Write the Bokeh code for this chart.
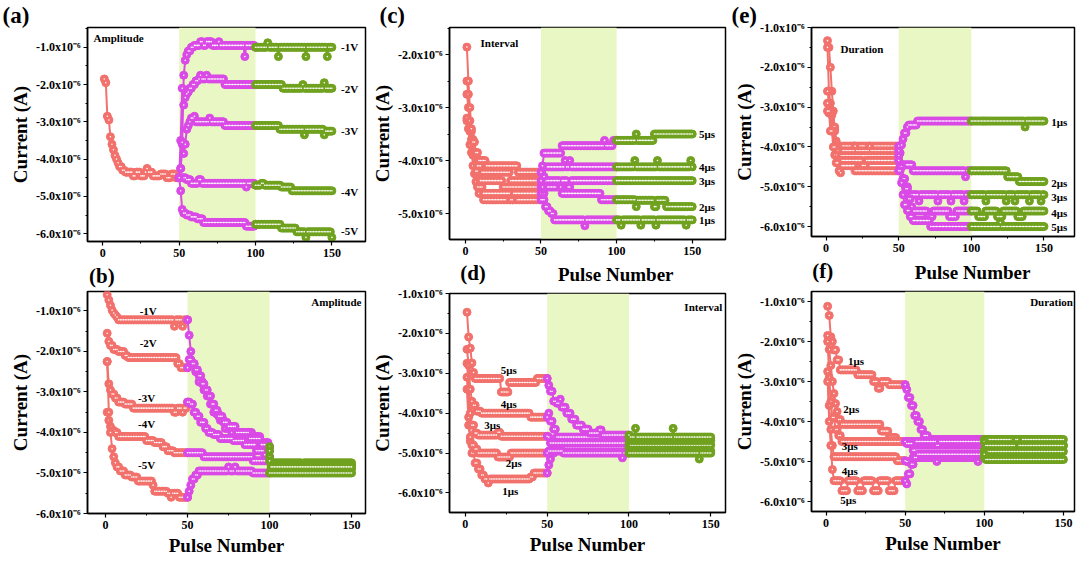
import numpy as np
from bokeh.plotting import figure
from bokeh.models import Range1d, FixedTicker, CustomJSTickFormatter, BoxAnnotation, Label, Title
from bokeh.layouts import row, column
from bokeh.embed import file_html
from bokeh.resources import INLINE

# ---------------- data (current in units of 1e-6 A; (pulse, level) knots, level held until next knot)
X_TICKS = [0, 50, 100, 150]
X_MINOR = [25, 75, 125]

# panel (a) - amplitude, shared depression phase
A_BASE = [(1,-1.85),(2,-1.95),(3,-2.85),(4,-2.95),(5,-3.4),(6,-3.6),(7,-3.75),(8,-3.9),(9,-4.0),(10,-4.1),
          (11,-4.2),(13,-4.3),(15,-4.35),(20,-4.45),(22,-4.35),(25,-4.45),(28,-4.35),(29,-4.25),(30,-4.35),
          (33,-4.45),(38,-4.4),(42,-4.5),(45,-4.4),(48,-4.5),(50,-4.5)]
A_1V = [(50,-4.5),(51,-4.25),(52,-3.6),(53,-1.75),(54,-1.35),(55,-1.2),(56,-1.1),(58,-1.0),(60,-0.95),(64,-0.85),
        (66,-0.95),(68,-0.85),(72,-0.95),(76,-0.85),(77,-0.95),(93,-1.25),(94,-0.95),(100,-1.0),(108,-0.88),
        (109,-1.0),(115,-1.25),(116,-1.0),(133,-1.25),(134,-1.0),(147,-1.25),(148,-1.0)]
A_2V = [(50,-4.5),(51,-3.5),(52,-2.1),(53,-2.55),(54,-2.35),(55,-2.25),(56,-2.2),(57,-2.1),(59,-2.0),(61,-1.9),
        (63,-1.85),(64,-1.75),(65,-1.85),(68,-1.75),(69,-1.85),(80,-2.0),(118,-2.1),(131,-2.0),(132,-2.1),
        (145,-1.95),(146,-2.1)]
A_3V = [(50,-4.5),(51,-4.25),(52,-3.55),(53,-3.85),(54,-3.6),(55,-3.2),(56,-3.1),(57,-3.0),(58,-2.9),(60,-2.85),
        (61,-3.0),(70,-2.9),(71,-3.0),(80,-3.1),(116,-3.2),(132,-3.35),(133,-3.2),(145,-3.35),(146,-3.25)]
A_4V = [(50,-4.5),(55,-4.55),(58,-4.65),(63,-4.55),(65,-4.65),(94,-4.75),(95,-4.65),(100,-4.7),(104,-4.65),
        (106,-4.7),(117,-4.75),(124,-4.85)]
A_5V = [(50,-4.5),(51,-4.85),(52,-5.35),(53,-5.45),(55,-5.5),(58,-5.55),(62,-5.6),(66,-5.7),(94,-5.8),(100,-5.75),
        (117,-5.85),(127,-5.95),(133,-6.1),(134,-5.95),(150,-6.1)]

# panel (b) - amplitude, potentiation first
B_1V = [(1,-0.6),(2,-0.73),(3,-0.86),(4,-0.98),(5,-1.05),(6,-1.1),(7,-1.15),(8,-1.22),(42,-1.38),(43,-1.22),
        (47,-1.38),(48,-1.22),(51,-1.6),(52,-2.0),(53,-2.3),(55,-2.5),(57,-2.75),(60,-2.95),(62,-3.1),(64,-3.3),
        (66,-3.5),(68,-3.55),(70,-3.7),(73,-3.9),(77,-4.0),(90,-4.1),(95,-4.25),(100,-4.35),(101,-4.75),
        (120,-4.85),(121,-4.75)]
B_2V = [(1,-1.55),(2,-1.75),(3,-1.85),(5,-1.95),(8,-2.0),(12,-2.1),(14,-2.15),(44,-2.3),(46,-2.4),(51,-2.2),
        (53,-2.3),(55,-2.45),(57,-2.6),(59,-2.8),(61,-2.95),(63,-3.1),(65,-3.3),(67,-3.45),(69,-3.6),(72,-3.75),
        (75,-3.85),(80,-4.0),(88,-4.15),(95,-4.3),(100,-4.45),(101,-4.8)]
B_3V = [(1,-2.25),(2,-2.8),(3,-2.95),(4,-3.05),(6,-3.15),(8,-3.25),(12,-3.3),(17,-3.4),(42,-3.5),(44,-3.4),
        (47,-3.5),(48,-3.4),(50,-3.25),(52,-3.3),(54,-3.5),(56,-3.6),(58,-3.75),(61,-3.9),(63,-4.0),(66,-4.05),
        (70,-4.15),(78,-4.2),(85,-4.3),(92,-4.45),(97,-4.55),(100,-4.6),(101,-4.9)]
B_4V = [(1,-3.5),(2,-3.7),(3,-3.85),(4,-3.95),(6,-4.0),(8,-4.1),(25,-4.2),(30,-4.25),(35,-4.35),(38,-4.45),
        (42,-4.5),(60,-4.6),(90,-4.7),(101,-4.85)]
B_5V = [(1,-2.25),(2,-3.5),(3,-4.0),(4,-4.4),(5,-4.6),(6,-4.75),(7,-4.85),(9,-4.95),(12,-5.05),(16,-5.1),
        (20,-5.2),(29,-5.3),(30,-5.45),(38,-5.5),(40,-5.6),(41,-5.5),(45,-5.6),(51,-5.45),(52,-5.3),(53,-5.15),
        (55,-5.05),(57,-4.95),(75,-4.85),(76,-4.95),(79,-4.85),(80,-4.95),(90,-5.0)]

# panel (c) - interval, depression first
C_1US = [(1,-3.25),(3,-3.7),(5,-4.1),(7,-4.4),(9,-4.62),(12,-4.74),(51,-4.74),(53,-4.87),(55,-4.95),(57,-5.0),
         (59,-5.12),(79,-5.23),(80,-5.12),(103,-5.22),(104,-5.12),(116,-5.22),(117,-5.12),(126,-5.22),
         (127,-5.12),(146,-5.22),(147,-5.12)]
C_2US = [(1,-3.2),(2,-3.4),(4,-3.85),(6,-4.25),(8,-4.5),(12,-4.62),(30,-4.74),(32,-4.62),(51,-4.62),(53,-4.5),
         (64,-4.62),(90,-4.74),(113,-4.87),(114,-4.75),(125,-4.87),(127,-4.75),(133,-4.87)]
C_3US = [(1,-2.75),(2,-3.0),(3,-3.45),(5,-3.9),(7,-4.2),(10,-4.38),(25,-4.5),(51,-4.55),(52,-4.38),(63,-4.5),
         (64,-4.38),(68,-4.5),(70,-4.38)]
C_4US = [(1,-2.5),(2,-2.75),(3,-3.25),(4,-3.6),(6,-3.9),(8,-4.1),(11,-4.22),(30,-4.38),(51,-4.5),(52,-4.3),
         (53,-4.12),(66,-4.0),(67,-4.12),(69,-4.0),(70,-4.12),(112,-4.0),(113,-4.12),(127,-4.0),(128,-4.12),
         (149,-4.0),(150,-4.12)]
C_5US = [(1,-1.86),(2,-2.5),(3,-3.0),(4,-3.4),(5,-3.65),(7,-3.85),(9,-4.0),(14,-4.1),(35,-4.22),(51,-4.1),
         (52,-3.86),(64,-3.72),(92,-3.62),(93,-3.72),(98,-3.62),(113,-3.5),(114,-3.62),(125,-3.5)]

# panel (d) - interval, potentiation first
D_1US = [(1,-3.4),(2,-4.3),(3,-4.7),(4,-5.0),(6,-5.25),(8,-5.4),(10,-5.55),(12,-5.65),(14,-5.75),(15,-5.65),
         (40,-5.6),(42,-5.5),(51,-5.3),(52,-5.15),(53,-5.0),(55,-4.9),(58,-4.85),(101,-4.9),(130,-4.95)]
D_2US = [(1,-3.1),(2,-4.1),(3,-4.6),(4,-4.8),(6,-4.9),(8,-5.0),(20,-5.1),(28,-5.0),(51,-4.95),(60,-5.0),
         (96,-5.12),(97,-5.0),(143,-5.15),(144,-5.0)]
D_3US = [(1,-2.75),(2,-3.4),(3,-4.0),(4,-4.3),(6,-4.5),(8,-4.55),(20,-4.48),(22,-4.58),(51,-4.6),(52,-4.75),
         (101,-4.8)]
D_4US = [(1,-2.4),(2,-2.8),(3,-3.4),(4,-3.7),(5,-3.8),(7,-3.95),(10,-4.0),(38,-4.0),(40,-4.1),(51,-4.0),
         (52,-4.2),(54,-4.4),(56,-4.6),(101,-4.68)]
D_5US = [(1,-1.47),(2,-2.09),(3,-2.37),(4,-2.74),(5,-2.98),(6,-3.13),(22,-3.47),(27,-3.23),(44,-3.13),(51,-3.3),
         (52,-3.45),(54,-3.7),(56,-3.75),(58,-3.65),(59,-3.85),(62,-4.0),(65,-4.15),(68,-4.3),(72,-4.4),
         (76,-4.5),(82,-4.42),(84,-4.55),(101,-4.6),(104,-4.38),(105,-4.6),(127,-4.38),(128,-4.6)]

# panel (e) - duration, depression first
E_1US = [(1,-1.33),(2,-1.5),(3,-2.0),(4,-2.6),(5,-3.1),(6,-3.55),(7,-3.85),(8,-3.98),(51,-4.15),(52,-3.95),
         (53,-3.8),(54,-3.65),(56,-3.5),(57,-3.45),(63,-3.35),(137,-3.5),(138,-3.35)]
E_2US = [(1,-1.5),(2,-2.6),(3,-2.9),(4,-3.2),(5,-3.6),(7,-4.0),(9,-4.1),(20,-3.98),(21,-4.1),(30,-3.98),
         (31,-4.1),(51,-4.45),(60,-4.6),(96,-4.75),(97,-4.6),(125,-4.75),(133,-4.87)]
E_3US = [(1,-2.6),(2,-2.9),(3,-3.1),(5,-3.5),(7,-4.1),(9,-4.22),(51,-4.5),(53,-4.8),(55,-5.0),(57,-5.2),
         (64,-5.36),(65,-5.2),(77,-5.36),(78,-5.2),(86,-5.36),(87,-5.2),(95,-5.36),(96,-5.2),(110,-5.36),
         (111,-5.2),(124,-5.36),(125,-5.2),(130,-5.36),(131,-5.2),(140,-5.36),(141,-5.2),(148,-5.36),(149,-5.2)]
E_4US = [(1,-2.9),(2,-3.15),(4,-3.6),(6,-4.2),(8,-4.34),(25,-4.47),(28,-4.34),(51,-4.5),(53,-4.8),(55,-5.05),
         (57,-5.3),(59,-5.5),(60,-5.61),(70,-5.75),(74,-5.61),(85,-5.75),(90,-5.61),(105,-5.75),(110,-5.61),
         (118,-5.75),(122,-5.61),(132,-5.75),(136,-5.61)]
E_5US = [(1,-3.1),(3,-3.6),(5,-4.0),(7,-4.4),(9,-4.6),(10,-4.65),(11,-4.47),(20,-4.6),(51,-4.6),(52,-4.9),
         (53,-5.2),(54,-5.45),(56,-5.6),(58,-5.75),(60,-5.85),(72,-6.0),(120,-5.9),(121,-6.0)]

# panel (f) - duration, potentiation first
F_1US = [(1,-1.12),(2,-1.35),(3,-1.88),(4,-2.0),(5,-2.21),(7,-2.46),(9,-2.71),(20,-2.83),(30,-3.0),(33,-3.17),
         (35,-3.0),(40,-3.08),(51,-3.2),(52,-3.4),(54,-3.6),(56,-3.85),(58,-4.0),(60,-4.2),(62,-4.35),(65,-4.45),
         (101,-4.45)]
F_2US = [(1,-1.85),(2,-2.2),(3,-2.6),(4,-3.0),(5,-3.3),(6,-3.55),(7,-3.75),(8,-3.95),(10,-4.07),(35,-4.24),
         (40,-4.4),(45,-4.5),(70,-4.6),(72,-4.5),(101,-4.6)]
F_3US = [(1,-2.0),(2,-2.9),(3,-3.5),(4,-3.9),(6,-4.2),(8,-4.35),(10,-4.5),(51,-4.55),(55,-4.72),(101,-4.75)]
F_4US = [(1,-2.75),(2,-3.6),(3,-4.2),(4,-4.6),(5,-4.88),(45,-4.98),(51,-5.0),(55,-4.9),(70,-5.0),(71,-4.9),
         (96,-5.0),(97,-4.9),(101,-4.95)]
F_5US = [(1,-3.0),(2,-4.0),(3,-4.6),(4,-5.2),(5,-5.48),(10,-5.73),(14,-5.48),(20,-5.73),(24,-5.48),(30,-5.73),
         (34,-5.48),(40,-5.73),(44,-5.48),(51,-5.56),(52,-5.31),(54,-5.07),(56,-4.9),(58,-4.82),(101,-4.6),
         (120,-4.45),(122,-4.6)]

SALMON = "#f2716c"
MAGENTA = "#da4ae6"
GREEN = "#70a21f"
BAND = "#e8f7c3"
FONT = "Liberation Serif"


def expand(knots, start, end):
    xs, ys = [], []
    for pulse in range(start, end + 1):
        v = knots[0][1]
        for kp, kv in knots:
            if kp <= pulse:
                v = kv
            else:
                break
        xs.append(pulse)
        ys.append(v)
    return xs, ys


def draw_seg(p, knots, start, end, color):
    xs, ys = expand(knots, start, end)
    p.line(xs, ys, line_color=color, line_width=2)
    p.scatter(xs, ys, marker="circle", size=8, fill_color=color, line_color=color, line_width=1)
    p.scatter(xs, ys, marker="circle", size=1.6, fill_color="white", line_color=None)


def panel(w, h, xr, yr, yt, ymt, bl, br, bt, bb, xlabel=True):
    p = figure(width=w, height=h, x_range=Range1d(*xr), y_range=Range1d(*yr),
               output_backend="svg", toolbar_location=None,
               min_border_left=bl, min_border_right=br, min_border_top=bt, min_border_bottom=bb)
    p.xgrid.visible = False
    p.ygrid.visible = False
    p.outline_line_color = "black"
    p.outline_line_width = 1.5
    p.outline_line_alpha = 1
    p.add_layout(BoxAnnotation(left=50, right=100, fill_color=BAND, fill_alpha=1, line_alpha=0, level="underlay"))
    p.xaxis.ticker = FixedTicker(ticks=X_TICKS, minor_ticks=X_MINOR)
    p.yaxis.ticker = FixedTicker(ticks=yt, minor_ticks=ymt)
    p.yaxis.formatter = CustomJSTickFormatter(code="return tick.toFixed(1) + 'x10\u207b\u2076';")
    for ax in p.axis:
        ax.axis_line_width = 1.5
        ax.major_tick_line_width = 1.2
        ax.minor_tick_line_width = 1
        ax.major_tick_out = 4
        ax.major_tick_in = 0
        ax.minor_tick_out = 2
        ax.minor_tick_in = 0
        ax.major_label_text_font = FONT
        ax.major_label_text_font_style = "bold"
        ax.major_label_text_color = "black"
        ax.axis_label_text_font = FONT
        ax.axis_label_text_font_style = "bold"
        ax.axis_label_text_font_size = "19px"
        ax.axis_label_text_color = "black"
        ax.major_label_standoff = 3
        ax.axis_label_standoff = 3
    p.xaxis.major_label_text_font_size = "12px"
    p.yaxis.major_label_text_font_size = "12px"
    p.yaxis.axis_label = "Current (A)"
    p.yaxis.axis_label_standoff = 2
    if xlabel:
        p.xaxis.axis_label = "Pulse Number"
    return p


def strip(w, h):
    s = figure(width=w, height=h, x_range=Range1d(0, w), y_range=Range1d(0, h), output_backend="svg",
               toolbar_location=None, min_border=0, x_axis_location=None, y_axis_location=None)
    s.outline_line_color = None
    s.xgrid.visible = False
    s.ygrid.visible = False
    return s


def txt(p, x, y, s, align="left", size="11px"):
    p.add_layout(Label(x=x, y=y, text=s, text_font=FONT, text_font_style="bold", text_font_size=size,
                       text_align=align, text_baseline="middle", text_color="black"))


def ptitle(p, s, offset):
    p.add_layout(Title(text=s, align="left", offset=offset, standoff=0, text_font=FONT, text_font_style="bold",
                       text_font_size="23px", text_color="black", vertical_align="bottom"), "above")


def draw_panel(p, curves, base=None):
    if base is not None:
        draw_seg(p, base, 1, 50, SALMON)
    else:
        for c in curves:
            draw_seg(p, c, 1, 50, SALMON)
    for c in curves:
        draw_seg(p, c, 50, 100, MAGENTA)
    for c in curves:
        draw_seg(p, c, 100, 150, GREEN)


Y6 = [-1.0, -2.0, -3.0, -4.0, -5.0, -6.0]
Y6M = [-1.5, -2.5, -3.5, -4.5, -5.5]

# ---------- column 1
pa = panel(368, 263, (-10, 172), (-6.21, -0.47), Y6, Y6M + [-0.5], 87, 3, 24, 22, xlabel=False)
ptitle(pa, "(a)", -85)
draw_panel(pa, [A_1V, A_2V, A_3V, A_4V, A_5V], base=A_BASE)
txt(pa, -6, -0.75, "Amplitude")
for lab, yy in [("-1V", -1.0), ("-2V", -2.12), ("-3V", -3.25), ("-4V", -4.87), ("-5V", -5.92)]:
    txt(pa, 156, yy, lab)

s1 = strip(368, 25)
txt(s1, 2, 12.5, "(b)", size="21px")

pb = panel(368, 270, (-11, 158.5), (-6.0, -0.52), Y6, Y6M, 87, 3, 3, 45)
draw_panel(pb, [B_1V, B_2V, B_3V, B_4V, B_5V])
txt(pb, 156, -0.78, "Amplitude", align="right")
for lab, xx, yy in [("-1V", 26, -1.0), ("-2V", 26, -1.8), ("-3V", 25, -3.15), ("-4V", 25, -3.8), ("-5V", 25, -4.8)]:
    txt(pb, xx, yy, lab, align="center")

# ---------- column 2
pc = panel(362, 260, (-10.5, 172), (-5.49, -1.49), [-2.0, -3.0, -4.0, -5.0], [-1.5, -2.5, -3.5, -4.5, -5.5],
           79, 5, 21, 21, xlabel=False)
ptitle(pc, "(c)", -70)
draw_panel(pc, [C_1US, C_2US, C_3US, C_4US, C_5US])
txt(pc, 10, -1.79, "Interval")
for lab, yy in [("5μs", -3.5), ("4μs", -4.12), ("3μs", -4.38), ("2μs", -4.87), ("1μs", -5.12)]:
    txt(pc, 154.5, yy, lab)

s2 = strip(362, 25)
txt(s2, 14, 13, "(d)", size="21px")
txt(s2, 218, 11, "Pulse Number", align="center", size="19px")

pd_ = panel(362, 273, (-9.7, 159), (-6.49, -1.0), Y6, Y6M, 79, 5, 8, 46)
draw_panel(pd_, [D_1US, D_2US, D_3US, D_4US, D_5US])
txt(pd_, 157, -1.33, "Interval", align="right")
for lab, xx, yy in [("5μs", 26.5, -2.92), ("4μs", 26.5, -3.76), ("3μs", 16.5, -4.29), ("2μs", 29.6, -5.25),
                    ("1μs", 27.5, -5.96)]:
    txt(pd_, xx, yy, lab, align="center")

# ---------- column 3
pe = panel(346, 258, (-10, 171), (-6.25, -1.0), Y6, Y6M, 80, 2, 22, 22, xlabel=False)
ptitle(pe, "(e)", -80)
draw_panel(pe, [E_1US, E_2US, E_3US, E_4US, E_5US])
txt(pe, 10, -1.55, "Duration")
for lab, yy in [("1μs", -3.37), ("2μs", -4.9), ("3μs", -5.26), ("4μs", -5.67), ("5μs", -6.02)]:
    txt(pe, 155, yy, lab)

s3 = strip(346, 25)
txt(s3, 1, 13, "(f)", size="21px")
txt(s3, 212, 11, "Pulse Number", align="center", size="19px")

pf = panel(346, 275, (-9.2, 157), (-6.25, -0.75), Y6, Y6M, 80, 2, 8, 47)
draw_panel(pf, [F_1US, F_2US, F_3US, F_4US, F_5US])
txt(pf, 156, -1.02, "Duration", align="right")
for lab, xx, yy in [("1μs", 19, -2.49), ("2μs", 16, -3.69), ("3μs", 15, -4.6), ("4μs", 15, -5.23), ("5μs", 14, -5.96)]:
    txt(pf, xx, yy, lab, align="center")

layout = row(column(pa, s1, pb), column(pc, s2, pd_), column(pe, s3, pf))
open("out.html", "w").write(file_html(layout, INLINE))
